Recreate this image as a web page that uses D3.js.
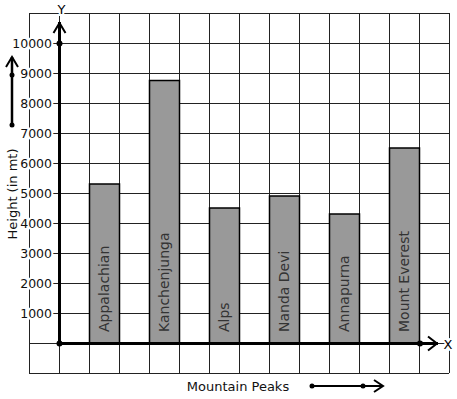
<html>
<head>
  <style>
    body { margin: 0; background: #fff; }
    text { font-family: "DejaVu Sans", sans-serif; }
  </style>
  <script src="https://d3js.org/d3.v7.min.js"></script>
</head>
<body>
<script>
// data
var peaks = ["Appalachian", "Kanchenjunga", "Alps", "Nanda Devi", "Annapurna", "Mount Everest"];
var heights = [5300, 8750, 4500, 4900, 4300, 6500];
var yTicks = [1000, 2000, 3000, 4000, 5000, 6000, 7000, 8000, 9000, 10000];

var screen = {width: 457, height: 399};

// grid is 14 columns x 12 rows of 30px
var xScale = d3.scaleLinear().domain([0, 14]).range([29, 449]);
var yScale = d3.scaleLinear().domain([-1000, 11000]).range([373, 13]);

var svg = d3.select("body").append("svg")
  .attr("width", screen.width)
  .attr("height", screen.height);

// grid
svg.selectAll(".vgrid")
  .data(d3.range(15))
  .enter().append("line")
  .attr("x1", function(d){ return xScale(d) + 0.5 })
  .attr("x2", function(d){ return xScale(d) + 0.5 })
  .attr("y1", yScale(11000))
  .attr("y2", yScale(-1000))
  .style("stroke", "#222").attr("stroke-width", 1);

svg.selectAll(".hgrid")
  .data(d3.range(-1000, 11001, 1000))
  .enter().append("line")
  .attr("x1", xScale(0))
  .attr("x2", xScale(14))
  .attr("y1", function(d){ return yScale(d) + 0.5 })
  .attr("y2", function(d){ return yScale(d) + 0.5 })
  .style("stroke", "#222").attr("stroke-width", 1);

// bars
svg.selectAll("rect.bar")
  .data(heights)
  .enter().append("rect")
  .attr("class", "bar")
  .attr("x", function(d, i){ return xScale(2 + 2*i) + 0.5 })
  .attr("y", function(d){ return yScale(d) })
  .attr("width", xScale(1) - xScale(0))
  .attr("height", function(d){ return yScale(0) - yScale(d) })
  .attr("fill", "#999")
  .style("stroke", "#000").attr("stroke-width", 1.5);

// bar labels
svg.selectAll("text.peak")
  .data(peaks)
  .enter().append("text")
  .attr("class", "peak")
  .attr("transform", function(d, i){
    return "translate(" + (xScale(2.5 + 2*i) + 5) + "," + (yScale(0) - 11) + ") rotate(-90)";
  })
  .style("font-size", "14px")
  .attr("fill", "#333")
  .text(function(d){ return d });

// y tick labels (white halo hides grid behind)
svg.selectAll("text.tick")
  .data(yTicks)
  .enter().append("text")
  .attr("class", "tick")
  .attr("x", 52)
  .attr("y", function(d){ return yScale(d) + 5 })
  .attr("text-anchor", "end")
  .style("font-size", "12.5px")
  .attr("fill", "#111")
  .style("paint-order", "stroke")
  .style("stroke", "#fff").attr("stroke-width", 4)
  .text(function(d){ return d });

// axes
var x0 = xScale(1) + 0.5, y0 = yScale(0) + 0.5;
svg.append("line")
  .attr("x1", x0).attr("y1", y0).attr("x2", x0).attr("y2", 22)
  .style("stroke", "#000").attr("stroke-width", 3);
svg.append("path")
  .attr("d", "M" + (x0-6) + ",33 L" + x0 + ",23 L" + (x0+6) + ",33")
  .attr("fill", "none").style("stroke", "#000").attr("stroke-width", 2);
svg.append("line")
  .attr("x1", x0).attr("y1", y0).attr("x2", 438).attr("y2", y0)
  .style("stroke", "#000").attr("stroke-width", 3);
svg.append("path")
  .attr("d", "M428," + (y0-7) + " L437," + y0 + " L428," + (y0+7))
  .attr("fill", "none").style("stroke", "#000").attr("stroke-width", 2);

svg.selectAll("circle.ax")
  .data([[x0, y0], [x0, yScale(10000) + 0.5], [xScale(13) + 1, y0]])
  .enter().append("circle")
  .attr("cx", function(d){ return d[0] })
  .attr("cy", function(d){ return d[1] })
  .attr("r", 3).attr("fill", "#000");

svg.append("text")
  .attr("x", x0 + 2).attr("y", 14)
  .attr("text-anchor", "middle")
  .style("font-size", "13px")
  .style("paint-order", "stroke").style("stroke", "#fff").attr("stroke-width", 4)
  .text("Y");
svg.append("text")
  .attr("x", 448).attr("y", y0 + 5)
  .attr("text-anchor", "middle")
  .style("font-size", "13px")
  .style("paint-order", "stroke").style("stroke", "#fff").attr("stroke-width", 4)
  .text("X");

// axis titles
svg.append("text")
  .attr("transform", "translate(17,194) rotate(-90)")
  .attr("text-anchor", "middle")
  .style("font-size", "13px")
  .attr("fill", "#111")
  .text("Height (in mt)");

svg.append("text")
  .attr("x", 238).attr("y", 391)
  .attr("text-anchor", "middle")
  .style("font-size", "13px")
  .attr("fill", "#111")
  .text("Mountain Peaks");

// direction arrows
svg.append("line")
  .attr("x1", 12).attr("y1", 125).attr("x2", 12).attr("y2", 57)
  .style("stroke", "#000").attr("stroke-width", 2.5);
svg.append("path")
  .attr("d", "M6,67 L12,57 L18,67")
  .attr("fill", "none").style("stroke", "#000").attr("stroke-width", 2);
svg.append("line")
  .attr("x1", 312).attr("y1", 386).attr("x2", 383).attr("y2", 386)
  .style("stroke", "#000").attr("stroke-width", 2);
svg.append("path")
  .attr("d", "M374,380 L383,386 L374,392")
  .attr("fill", "none").style("stroke", "#000").attr("stroke-width", 2);
svg.selectAll("circle.dir")
  .data([[12, 75], [12, 125], [312, 386], [363, 386]])
  .enter().append("circle")
  .attr("cx", function(d){ return d[0] })
  .attr("cy", function(d){ return d[1] })
  .attr("r", 2.5).attr("fill", "#000");
</script>
</body>
</html>
